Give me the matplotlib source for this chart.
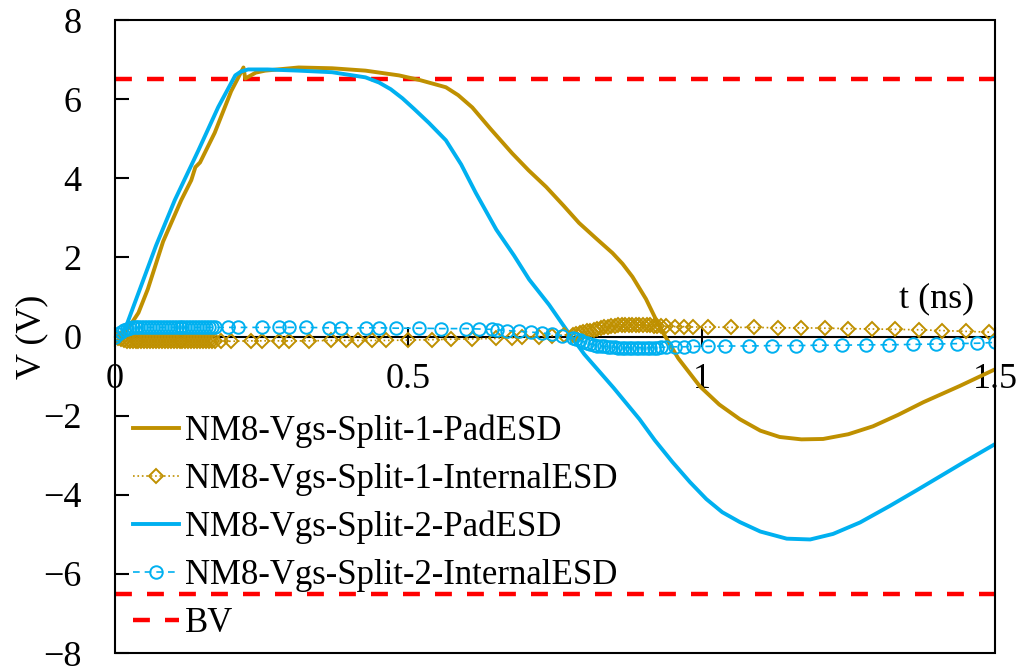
import matplotlib
matplotlib.use("Agg")
import matplotlib.pyplot as plt
from matplotlib.patches import Rectangle

plt.rcParams["font.family"] = ["Liberation Serif", "DejaVu Serif"]

GOLD = "#BF9000"
BLUE = "#00B0F0"
RED = "#FF0000"

# Split-1 PadESD (ns, V)
t1_pad = [0, 0.01, 0.02, 0.04, 0.056, 0.082, 0.113, 0.13, 0.137, 0.145, 0.17, 0.198,
          0.212, 0.219, 0.222, 0.24, 0.256, 0.313, 0.37, 0.427, 0.484, 0.52, 0.564,
          0.585, 0.609, 0.64, 0.677, 0.705, 0.735, 0.765, 0.791, 0.82, 0.848, 0.865,
          0.882, 0.905, 0.928, 0.96, 0.997, 1.03, 1.065,
          1.1, 1.133, 1.17, 1.207, 1.25, 1.292, 1.335, 1.378, 1.44, 1.5]
v1_pad = [0, 0.02, 0.15, 0.6, 1.2, 2.4, 3.45, 3.95, 4.28, 4.4, 5.15, 6.2,
          6.6, 6.8, 6.52, 6.67, 6.72, 6.8, 6.78, 6.72, 6.6, 6.48, 6.3,
          6.1, 5.79, 5.25, 4.63, 4.2, 3.78, 3.3, 2.87, 2.48, 2.11, 1.84,
          1.51, 0.95, 0.25, -0.55, -1.26, -1.72, -2.09,
          -2.38, -2.54, -2.6, -2.59, -2.47, -2.27, -1.98, -1.66, -1.25, -0.83]

# Split-2 PadESD
t2_pad = [0, 0.01, 0.02, 0.035, 0.05, 0.07, 0.102, 0.142, 0.176, 0.205, 0.215,
          0.227, 0.26, 0.313, 0.37, 0.427, 0.45, 0.47, 0.49, 0.51, 0.535, 0.564,
          0.59, 0.615, 0.65, 0.68, 0.706, 0.74, 0.769, 0.8, 0.85, 0.894, 0.92,
          0.95, 0.98, 1.008, 1.035, 1.065, 1.1, 1.145, 1.185,
          1.224, 1.27, 1.321, 1.365, 1.407, 1.45, 1.5]
v2_pad = [0, 0.05, 0.3, 0.9, 1.5, 2.3, 3.45, 4.7, 5.8, 6.6, 6.7,
          6.75, 6.75, 6.72, 6.68, 6.55, 6.42, 6.25, 6.02, 5.75, 5.4, 4.96,
          4.35, 3.63, 2.7, 2.05, 1.44, 0.8, 0.18, -0.45, -1.3, -2.09, -2.62,
          -3.17, -3.68, -4.11, -4.44, -4.69, -4.93, -5.11, -5.13,
          -4.99, -4.7, -4.28, -3.9, -3.53, -3.15, -2.72]

# Split-1 InternalESD
t1_int = [0, 0.005, 0.01, 0.015, 0.02, 0.025, 0.03, 0.035, 0.04, 0.045, 0.05, 0.055,
          0.06, 0.065, 0.07, 0.075, 0.08, 0.085, 0.09, 0.095, 0.1, 0.105, 0.11, 0.115,
          0.12, 0.125, 0.13, 0.135, 0.14, 0.145, 0.15, 0.155, 0.16, 0.165, 0.17,
          0.181, 0.198, 0.232, 0.25, 0.279, 0.296, 0.33, 0.369, 0.393, 0.415, 0.438,
          0.462, 0.5, 0.54, 0.573, 0.609, 0.65, 0.677, 0.694, 0.723, 0.745, 0.766,
          0.78, 0.786, 0.792, 0.798, 0.804, 0.81, 0.816, 0.822, 0.828, 0.834, 0.84,
          0.846, 0.852, 0.858, 0.864, 0.87, 0.876, 0.882, 0.888, 0.894, 0.9, 0.906,
          0.912, 0.918, 0.924, 0.93, 0.94, 0.955, 0.97, 0.985, 1.01, 1.05, 1.09,
          1.13, 1.17, 1.21, 1.25, 1.29, 1.33, 1.37, 1.41, 1.45, 1.49]
v1_int = [0, -0.03, -0.06, -0.09, -0.11, -0.12, -0.12, -0.12, -0.12, -0.12, -0.12, -0.12,
          -0.12, -0.12, -0.12, -0.12, -0.12, -0.12, -0.12, -0.12, -0.12, -0.12, -0.12, -0.12,
          -0.12, -0.12, -0.12, -0.12, -0.12, -0.12, -0.12, -0.12, -0.12, -0.12, -0.12,
          -0.12, -0.12, -0.11, -0.11, -0.11, -0.11, -0.11, -0.1, -0.1, -0.1, -0.1,
          -0.1, -0.09, -0.08, -0.07, -0.06, -0.05, -0.03, -0.02, 0.0, 0.02, 0.04,
          0.05, 0.07, 0.09, 0.11, 0.13, 0.15, 0.17, 0.19, 0.21, 0.23, 0.25,
          0.26, 0.27, 0.28, 0.29, 0.3, 0.3, 0.3, 0.3, 0.29, 0.29, 0.28,
          0.28, 0.27, 0.27, 0.26, 0.26, 0.25, 0.25, 0.24, 0.24, 0.23, 0.23,
          0.22, 0.22, 0.21, 0.2, 0.19, 0.18, 0.17, 0.15, 0.13, 0.11]

# Split-2 InternalESD
t2_int = [0, 0.005, 0.01, 0.015, 0.02, 0.025, 0.03, 0.035, 0.04, 0.045, 0.05, 0.055,
          0.06, 0.065, 0.07, 0.075, 0.08, 0.085, 0.09, 0.095, 0.1, 0.105, 0.11, 0.115,
          0.12, 0.125, 0.13, 0.135, 0.14, 0.145, 0.15, 0.155, 0.16, 0.165, 0.17,
          0.193, 0.21, 0.25, 0.279, 0.296, 0.325, 0.364, 0.386, 0.427, 0.45, 0.479,
          0.518, 0.556, 0.598, 0.62, 0.643, 0.651, 0.668, 0.689, 0.709, 0.728, 0.745,
          0.762, 0.78, 0.786, 0.792, 0.798, 0.804, 0.81, 0.816, 0.822, 0.828, 0.834,
          0.84, 0.846, 0.852, 0.858, 0.864, 0.87, 0.876, 0.882, 0.888, 0.894, 0.9,
          0.906, 0.912, 0.918, 0.924, 0.93, 0.94, 0.955, 0.97, 0.985, 1.01, 1.04,
          1.08, 1.12, 1.16, 1.2, 1.24, 1.28, 1.32, 1.36, 1.4, 1.435, 1.47, 1.5]
v2_int = [0, 0.06, 0.12, 0.17, 0.2, 0.22, 0.23, 0.23, 0.23, 0.23, 0.23, 0.23,
          0.23, 0.23, 0.23, 0.23, 0.23, 0.23, 0.23, 0.23, 0.23, 0.23, 0.23, 0.23,
          0.23, 0.23, 0.23, 0.23, 0.23, 0.23, 0.23, 0.23, 0.23, 0.23, 0.23,
          0.23, 0.23, 0.23, 0.23, 0.23, 0.23, 0.22, 0.22, 0.22, 0.22, 0.21,
          0.21, 0.2, 0.2, 0.19, 0.18, 0.17, 0.15, 0.13, 0.11, 0.09, 0.06,
          0.02, -0.04, -0.07, -0.1, -0.13, -0.16, -0.19, -0.21, -0.23, -0.24, -0.25,
          -0.26, -0.27, -0.27, -0.28, -0.28, -0.28, -0.28, -0.28, -0.28, -0.28, -0.28,
          -0.28, -0.28, -0.28, -0.28, -0.27, -0.27, -0.26, -0.26, -0.25, -0.25, -0.24,
          -0.24, -0.23, -0.23, -0.22, -0.22, -0.21, -0.21, -0.2, -0.19, -0.18, -0.17, -0.15]

bv_level = 6.5
x_range = [0, 1.5]

fig = plt.figure(figsize=(10.27, 6.66), dpi=100)
ax = fig.add_axes([115 / 1027, 1 - 653 / 666, 880 / 1027, 633 / 666])

bv_style = dict(color=RED, lw=3.2, ls=(0, (3.8, 3.4)))
ax.plot(x_range, [bv_level, bv_level], zorder=1, **bv_style)
ax.plot(x_range, [-bv_level, -bv_level], zorder=1, **bv_style)

h1, = ax.plot(t1_pad, v1_pad, color=GOLD, lw=2.8, zorder=3)
h2, = ax.plot(t1_int, v1_int, color=GOLD, lw=1.2, ls=":", marker="D", ms=7,
              mfc="none", mec=GOLD, mew=1.4, zorder=4)
h3, = ax.plot(t2_pad, v2_pad, color=BLUE, lw=2.8, zorder=3)
h4, = ax.plot(t2_int, v2_int, color=BLUE, lw=1.2, ls=(0, (4, 3)), marker="o", ms=9,
              mfc="none", mec=BLUE, mew=1.4, zorder=4)
h5, = ax.plot([], [], **bv_style)

ax.set_xlim(0, 1.5)
ax.set_ylim(-8, 8)
ax.set_xticks([0, 0.5, 1, 1.5])
ax.set_xticklabels(["0", "0.5", "1", "1.5"])
ax.set_yticks(range(-8, 9, 2))

# x axis sits at V = 0, box drawn separately
ax.spines["bottom"].set_position(("data", 0))
for s in ["top", "right", "left"]:
    ax.spines[s].set_visible(False)
ax.spines["bottom"].set_linewidth(1.5)
ax.add_patch(Rectangle((0, 0), 1, 1, transform=ax.transAxes, fill=False,
                       lw=1.5, edgecolor="black", clip_on=False, zorder=5))

ax.tick_params(axis="x", direction="inout", length=14, width=1.5, pad=12, labelsize=26)
ax.tick_params(axis="y", direction="in", length=10, width=1.5, pad=24, labelsize=26)

ax.set_ylabel("V (V)", fontsize=26, labelpad=-4)
ax.text(1.4, 0.95, "t (ns)", fontsize=26, ha="center", va="center")

ax.legend([h1, h2, h3, h4, h5],
          ["NM8-Vgs-Split-1-PadESD", "NM8-Vgs-Split-1-InternalESD",
           "NM8-Vgs-Split-2-PadESD", "NM8-Vgs-Split-2-InternalESD", "BV"],
          loc="lower left", bbox_to_anchor=(0.02, 0.02), frameon=False,
          fontsize=25, handlelength=1.35, handletextpad=0.15, labelspacing=0.43,
          borderpad=0, borderaxespad=0)

fig.savefig("out.png", dpi=100)
